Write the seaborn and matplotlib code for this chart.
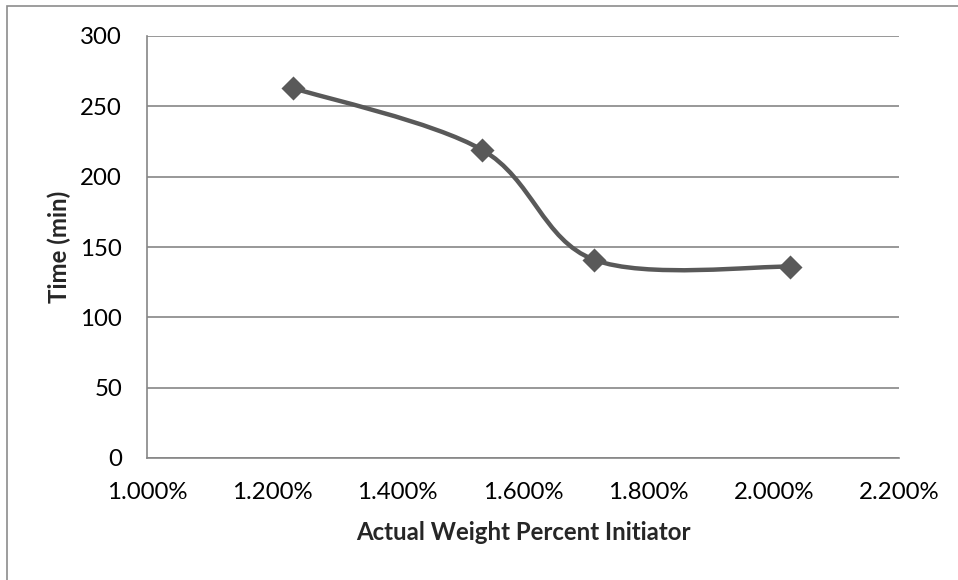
import numpy as np
import pandas as pd
import matplotlib
matplotlib.use("Agg")
import matplotlib.pyplot as plt
from matplotlib.path import Path
from matplotlib.patches import PathPatch, Rectangle
from matplotlib.ticker import FuncFormatter
import seaborn as sns

# Initiator loading (weight fraction) and time to reach the end point
initiator_pct = [0.01233, 0.01535, 0.01713, 0.02026]
time_min = [263, 219, 141, 136]

x_ticks = [0.010, 0.012, 0.014, 0.016, 0.018, 0.020, 0.022]
y_ticks = [0, 50, 100, 150, 200, 250, 300]

x_label = "Actual Weight Percent Initiator"
y_label = "Time (min)"

df = pd.DataFrame({"initiator": initiator_pct, "time": time_min})

sns.set_theme(style="white")
plt.rcParams["font.family"] = ["Lato", "DejaVu Sans"]

line_color = "#595959"
grid_color = "#868686"
font_size = 17.3

fig = plt.figure(figsize=(9.58, 5.8), dpi=100)
ax = fig.add_axes([147 / 958, 1 - 458 / 580, (899 - 147) / 958, (458 - 36) / 580])

# Outer chart-area border
fig.patches.append(Rectangle((7 / 958, -0.05), 1.2, 1 - 6 / 580 + 0.05,
                             transform=fig.transFigure, fill=False,
                             edgecolor="#8c8c8c", linewidth=1.2, zorder=0))

# Smoothed connecting curve: cubic Bezier segments with Catmull-Rom control points
xs = np.asarray(df["initiator"], dtype=float)
ys = np.asarray(df["time"], dtype=float)
pts = np.column_stack([xs, ys])
verts = [pts[0]]
codes = [Path.MOVETO]
n = len(pts)
for i in range(n - 1):
    p0 = pts[i - 1] if i > 0 else pts[i]
    p1 = pts[i]
    p2 = pts[i + 1]
    p3 = pts[i + 2] if i + 2 < n else pts[i + 1]
    c1 = p1 + (p2 - p0) / 6.0
    c2 = p2 - (p3 - p1) / 6.0
    verts += [c1, c2, p2]
    codes += [Path.CURVE4] * 3
ax.add_patch(PathPatch(Path(verts, codes), facecolor="none",
                       edgecolor=line_color, linewidth=3.2,
                       capstyle="round", joinstyle="round", zorder=3))

sns.scatterplot(data=df, x="initiator", y="time", ax=ax, marker="D",
                s=150, color=line_color, edgecolor=line_color,
                linewidth=0, zorder=4, legend=False)

ax.set_xlim(x_ticks[0], x_ticks[-1])
ax.set_ylim(y_ticks[0], y_ticks[-1])
ax.set_xticks(x_ticks)
ax.set_yticks(y_ticks)
ax.xaxis.set_major_formatter(FuncFormatter(lambda v, _: f"{v * 100:.3f}%"))

ax.grid(axis="y", color=grid_color, linewidth=1.2)
ax.set_axisbelow(True)
for side in ("top", "right"):
    ax.spines[side].set_visible(False)
for side in ("left", "bottom"):
    ax.spines[side].set_color(grid_color)
    ax.spines[side].set_linewidth(1.2)

ax.tick_params(axis="both", length=0, labelsize=font_size, colors="black")
ax.tick_params(axis="y", pad=18)
ax.tick_params(axis="x", pad=17)

ax.set_xlabel(x_label, fontsize=font_size, fontweight="bold", labelpad=13)
ax.set_ylabel(y_label, fontsize=font_size, fontweight="bold",
              va="center", ha="center", rotation_mode="default")
ax.yaxis.set_label_coords(-0.116, 0.5)

fig.savefig("out.png", dpi=100, facecolor="white")
